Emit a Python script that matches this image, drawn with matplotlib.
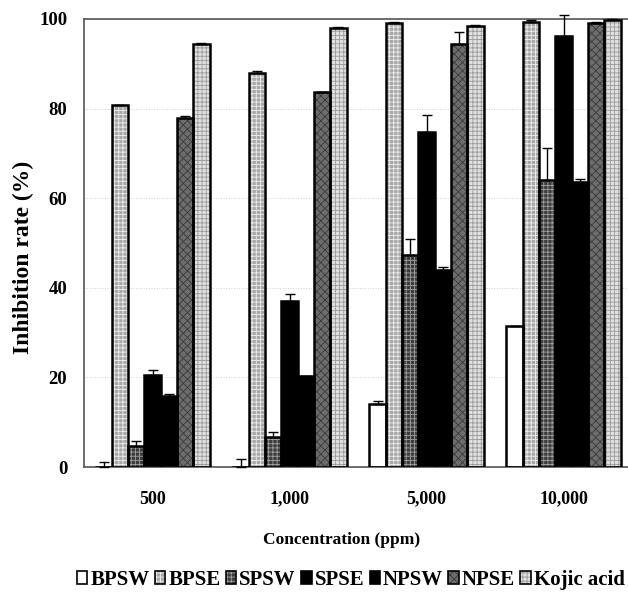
import matplotlib
matplotlib.use("Agg")
import matplotlib.pyplot as plt
import numpy as np
from matplotlib.patches import Rectangle
from matplotlib.legend_handler import HandlerBase

plt.rcParams['font.family'] = ['Liberation Serif', 'DejaVu Serif']
plt.rcParams['font.weight'] = 'bold'
plt.rcParams['hatch.linewidth'] = 0.6

categories = ["500", "1,000", "5,000", "10,000"]
series = ["BPSW", "BPSE", "SPSW", "SPSE", "NPSW", "NPSE", "Kojic acid"]

BPSW = [0.0, 0.0, 14.0, 31.4]
BPSE = [80.7, 88.0, 99.1, 99.4]
SPSW = [4.7, 6.6, 47.4, 64.1]
SPSE = [20.5, 37.1, 74.8, 96.2]
NPSW = [15.8, 20.3, 44.0, 63.6]
NPSE = [77.9, 83.6, 94.4, 99.1]
KOJIC = [94.4, 98.0, 98.4, 99.8]

BPSW_err = [1.1, 1.7, 0.8, 0.0]
BPSE_err = [0.2, 0.4, 0.3, 0.3]
SPSW_err = [1.0, 1.3, 3.5, 7.2]
SPSE_err = [1.2, 1.6, 3.8, 4.8]
NPSW_err = [0.4, 0.0, 0.6, 0.6]
NPSE_err = [0.4, 0.2, 2.8, 0.2]
KOJIC_err = [0.3, 0.3, 0.2, 0.2]

values = [BPSW, BPSE, SPSW, SPSE, NPSW, NPSE, KOJIC]
errors = [BPSW_err, BPSE_err, SPSW_err, SPSE_err, NPSW_err, NPSE_err, KOJIC_err]

# (facecolor, hatch, hatch colour)
styles = [
    ("#ffffff", None, "#ffffff"),
    ("#a8a8a8", "++++", "#eeeeee"),
    ("#3c3c3c", "++++", "#a0a0a0"),
    ("#000000", None, "#000000"),
    ("#000000", None, "#000000"),
    ("#6c6c6c", "xxxx", "#3a3a3a"),
    ("#e0e0e0", "++++", "#9a9a9a"),
]


class Swatch:
    def __init__(self, style):
        self.style = style


class SwatchHandler(HandlerBase):
    def create_artists(self, legend, orig_handle, xdescent, ydescent,
                       width, height, fontsize, trans):
        fc, hatch, hc = orig_handle.style
        r1 = Rectangle((-xdescent, -ydescent), width, height, facecolor=fc,
                       hatch=hatch, edgecolor=hc, linewidth=0, transform=trans)
        r2 = Rectangle((-xdescent, -ydescent), width, height, fill=False,
                       edgecolor='black', linewidth=1.2, transform=trans)
        return [r1, r2]


fig = plt.figure(figsize=(6.28, 5.92), dpi=100)
ax = fig.add_axes([84/628, 1-467/592, 548/628, (467-19)/592])

x = np.arange(len(categories))
w = 0.119
n = len(series)
for j, (vals, errs, (fc, hatch, hc)) in enumerate(zip(values, errors, styles)):
    pos = x + (j - (n-1)/2) * w
    ax.bar(pos, vals, w, color=fc, hatch=hatch, edgecolor=hc, linewidth=0, zorder=2)
    ax.bar(pos, vals, w, fill=False, edgecolor="black", linewidth=1.8, zorder=3)
    ax.errorbar(pos, vals, yerr=[np.zeros(len(errs)), errs], fmt='none',
                ecolor='black', elinewidth=1.0, capsize=3.5, capthick=1.0,
                zorder=4, clip_on=False)

ax.set_xlim(-0.5, 3.5)
ax.set_ylim(0, 100)
ax.set_yticks([0, 20, 40, 60, 80, 100])
ax.set_xticks(x)
ax.set_xticklabels(categories)
ax.tick_params(axis='both', length=0, labelsize=13.5)
ax.tick_params(axis='y', pad=12)
ax.tick_params(axis='x', pad=17, labelsize=13)
ax.yaxis.grid(True, linestyle=':', color='#d0d0d0', linewidth=0.7, zorder=0)
ax.set_axisbelow(True)
for s in ['left', 'bottom', 'top']:
    ax.spines[s].set_color('#555555')
    ax.spines[s].set_linewidth(1.2)
ax.spines['right'].set_visible(False)

fig.text(23/628, 1-257/592, "Inhibition rate (%)", rotation=90, ha='center',
         va='center', fontsize=17, fontweight='bold')
fig.text(342/628, 1-540/592, "Concentration (ppm)", ha='center', va='center',
         fontsize=12.5, fontweight='bold')

fig.legend([Swatch(s) for s in styles], series,
           handler_map={Swatch: SwatchHandler()},
           loc='center left', bbox_to_anchor=(77/628, 1-580/592), ncol=7,
           frameon=False, fontsize=15, handlelength=0.5, handleheight=0.6,
           handletextpad=0.15, columnspacing=0.25, borderpad=0, borderaxespad=0)

fig.savefig("out.png", dpi=100)
